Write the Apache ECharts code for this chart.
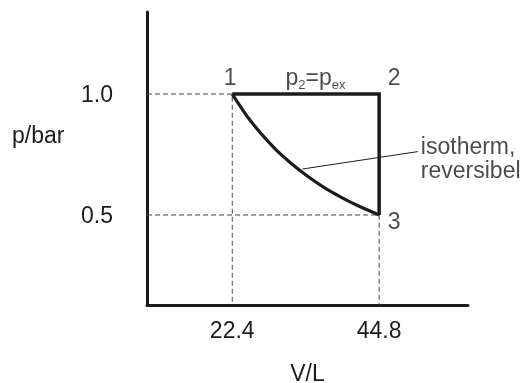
<!DOCTYPE html>
<html>
<head>
<meta charset="utf-8">
<script src="https://cdn.jsdelivr.net/npm/echarts@6/dist/echarts.min.js"></script>
<style>
  html, body { margin: 0; padding: 0; background: #fff; }
  #chart { width: 524px; height: 383px; }
</style>
</head>
<body>
<div id="chart"></div>
<script>
// p-V diagram: isothermal reversible expansion vs. expansion against constant p_ex
const stateV = [22.4, 44.8, 44.8]
const stateP = [1.0, 1.0, 0.5]
const stateNames = ['1', '2', '3']

// isotherm
const isoV = [22.4, 25.3, 28.9, 31.4, 34.0, 36.5, 39.1, 41.6, 44.8]
const isoP = [1.0, 0.885, 0.774, 0.713, 0.658, 0.612, 0.572, 0.538, 0.5]

// leader line for the "isotherm, reversibel" note
const leaderV = [33.1, 50.7]
const leaderP = [0.69, 0.762]

const xTicks = [22.4, 44.8]
const yTicks = [0.5, 1.0]

// axis extents
const V_MIN = 9.4, V_MAX = 58.35
const P_MIN = 0.128, P_MAX = 1.339

const ink = '#1e1b1c'
const font = 'Arial, "Liberation Sans", sans-serif'
const fs = 23

const chart = echarts.init(document.getElementById('chart'), null, { renderer: 'canvas' })

const pts = stateV.map((v, i) => [v, stateP[i]])
// dashed guides from the axes to states 1 and 3
const guide = (v, p) => [[V_MIN, p], [v, p], [v, P_MIN]]

const labelOffsets = { '1': [-2, -15], '2': [15, -15], '3': [15, 8] }

const option = {
  animation: false,
  grid: { left: 147, top: 12, right: 56, bottom: 78, containLabel: false, outerBoundsMode: 'none' },
  graphic: [
    {
      // y axis name, sits a bit above the axis middle
      type: 'text', left: 12, top: 125, silent: true,
      style: { text: 'p/bar', fill: ink, fontSize: fs, fontFamily: font },
    },
  ],
  xAxis: {
    type: 'value', min: V_MIN, max: V_MAX,
    name: 'V/L', nameLocation: 'middle', nameGap: 58,
    nameTextStyle: { color: ink, fontSize: fs, fontFamily: font },
    axisLine: { onZero: false, lineStyle: { color: ink, width: 3 } },
    axisTick: { show: false },
    splitLine: { show: false },
    axisLabel: {
      customValues: xTicks, margin: 15,
      color: ink, fontSize: fs, fontFamily: font,
      formatter: (v) => v.toFixed(1),
    },
  },
  yAxis: {
    type: 'value', min: P_MIN, max: P_MAX,
    axisLine: { onZero: false, lineStyle: { color: ink, width: 3 } },
    axisTick: { show: false },
    splitLine: { show: false },
    axisLabel: {
      customValues: yTicks, margin: 34, verticalAlign: 'top', lineHeight: 4,
      color: ink, fontSize: fs, fontFamily: font,
      formatter: (v) => v.toFixed(1),
    },
  },
  series: [
    {
      type: 'line', data: guide(stateV[0], stateP[0]), symbol: 'none', silent: true,
      lineStyle: { color: '#444', width: 1, type: [5, 3] },
    },
    {
      type: 'line', data: guide(stateV[2], stateP[2]), symbol: 'none', silent: true,
      lineStyle: { color: '#444', width: 1, type: [5, 3] },
    },
    {
      // 1 -> 2 -> 3 path
      type: 'line', data: pts, symbol: 'none',
      lineStyle: { color: ink, width: 3.5, join: 'miter' },
    },
    {
      type: 'line', data: isoV.map((v, i) => [v, isoP[i]]), symbol: 'none',
      smooth: 0.3,
      lineStyle: { color: ink, width: 3.2 },
    },
    {
      type: 'line', data: leaderV.map((v, i) => [v, leaderP[i]]), symbol: 'none',
      lineStyle: { color: ink, width: 1 },
    },
    {
      // state numbers
      type: 'scatter', symbolSize: 0, silent: true,
      data: pts.map((p, i) => ({
        value: p, name: stateNames[i],
        label: { offset: labelOffsets[stateNames[i]] },
      })),
      label: {
        show: true, position: 'inside', formatter: '{b}',
        color: ink, fontSize: fs, fontFamily: font,
      },
    },
    {
      // p2 = pex note and isotherm note
      type: 'scatter', symbolSize: 0, silent: true,
      data: [
        {
          value: [35.1, stateP[1]],
          label: {
            position: 'inside', offset: [0, -16],
            formatter: '{m|p}{s|2}{m|=p}{s|ex}',
          },
        },
        {
          value: [leaderV[1], leaderP[1]],
          label: {
            position: 'right', distance: 3, offset: [0, 8],
            align: 'left', lineHeight: 24,
            formatter: 'isotherm,\nreversibel',
          },
        },
      ],
      label: {
        show: true, color: ink, fontSize: fs, fontFamily: font,
        rich: {
          m: { fontSize: fs, fontFamily: font, color: ink, lineHeight: 24, verticalAlign: 'bottom' },
          s: { fontSize: 13, fontFamily: font, color: ink, lineHeight: 24, verticalAlign: 'bottom', padding: [0, 0, -2, 0] },
        },
      },
    },
  ],
}

chart.setOption(option)
window.addEventListener('resize', () => chart.resize())
</script>
</body>
</html>
